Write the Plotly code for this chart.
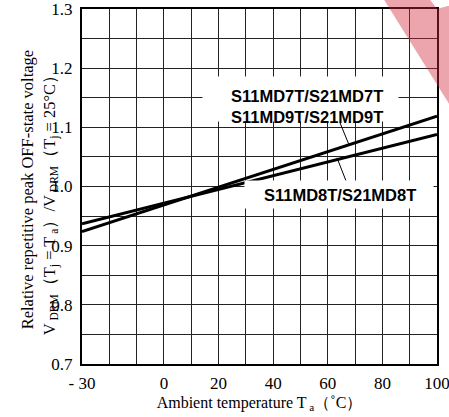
import plotly.graph_objects as go

# ---- data ----
temps = [-30, 100]
md7_md9 = [0.924, 1.119]   # S11MD7T/S21MD7T, S11MD9T/S21MD9T (steeper line)
md8 = [0.937, 1.088]       # S11MD8T/S21MD8T
x_ticks = [-30, -20, -10, 0, 10, 20, 30, 40, 50, 60, 70, 80, 90, 100]
x_labels = ["- 30", "", "", "0", "", "20", "", "40", "", "60", "", "80", "", "100"]
y_ticks = [0.7, 0.75, 0.8, 0.85, 0.9, 0.95, 1.0, 1.05, 1.1, 1.15, 1.2, 1.25, 1.3]
y_labels = ["0.7", "", "0.8", "", "0.9", "", "1.0", "", "1.1", "", "1.2", "", "1.3"]
label_78 = "S11MD7T/S21MD7T<br>S11MD9T/S21MD9T"
label_8 = "S11MD8T/S21MD8T"

W, H = 449, 417
L, R, T, B = 82, 437, 9.3, 364
XMIN, XMAX, YMIN, YMAX = -30, 100, 0.7, 1.3

def px2x(px):
    return XMIN + (px - L) * (XMAX - XMIN) / (R - L)

def py2y(py):
    return YMAX - (py - T) * (YMAX - YMIN) / (B - T)

def ppx(px):
    return (px - L) / (R - L)

def ppy(py):
    return (B - py) / (B - T)

fig = go.Figure()
fig.add_trace(go.Scatter(x=temps, y=md7_md9, mode="lines",
                         line=dict(color="black", width=3), showlegend=False))
fig.add_trace(go.Scatter(x=temps, y=md8, mode="lines",
                         line=dict(color="black", width=3), showlegend=False))

serif = "Liberation Serif"
sans = "Liberation Sans"

fig.update_layout(
    width=W, height=H,
    margin=dict(l=L, r=W - R, t=T, b=H - B, autoexpand=False),
    paper_bgcolor="white", plot_bgcolor="white",
    font=dict(family=serif, color="black"),
    xaxis=dict(range=[XMIN, XMAX], tickvals=x_ticks, ticktext=x_labels,
               showgrid=True, gridcolor="#222", gridwidth=1.2,
               showline=True, linecolor="black", linewidth=2, mirror=True,
               zeroline=False, ticks="", ticklabelstandoff=3, automargin=False,
               ticklabeloverflow="allow",
               tickfont=dict(family=serif, size=17, color="black"),
               title=dict(text="Ambient temperature T<sub> a</sub>（˚C）",
                          font=dict(family=serif, size=16, color="black"),
                          standoff=4)),
    yaxis=dict(range=[YMIN, YMAX], tickvals=y_ticks, ticktext=y_labels,
               showgrid=True, gridcolor="#222", gridwidth=1.2,
               showline=True, linecolor="black", linewidth=2, mirror=True,
               zeroline=False, ticks="", ticklabelstandoff=4, automargin=False,
               ticklabeloverflow="allow",
               tickfont=dict(family=serif, size=17, color="black")),
)

label_font = dict(family=sans, size=16.5, color="black", weight="bold")

# white backgrounds behind the labels
fig.add_annotation(x=px2x(300.5), y=py2y(99), xref="x", yref="y",
                   text=" ", showarrow=False, bgcolor="white",
                   width=195, height=44, borderpad=0)
fig.add_annotation(x=px2x(339), y=py2y(194.5), xref="x", yref="y",
                   text=" ", showarrow=False, bgcolor="white",
                   width=188, height=27, borderpad=0)
# label texts
fig.add_annotation(x=px2x(307), y=py2y(107), xref="x", yref="y",
                   text=label_78, showarrow=False, font=label_font)
fig.add_annotation(x=px2x(340), y=py2y(195), xref="x", yref="y",
                   text=label_8, showarrow=False, font=label_font)

# leader lines
fig.add_shape(type="line", xref="x", yref="y",
              x0=px2x(340), y0=py2y(123), x1=px2x(349), y1=py2y(145),
              line=dict(color="black", width=1))
fig.add_shape(type="line", xref="x", yref="y",
              x0=px2x(337), y0=py2y(158), x1=px2x(346), y1=py2y(181),
              line=dict(color="black", width=1))

# y-axis title (two rotated lines)
fig.add_annotation(x=ppx(16), y=ppy(190), xref="paper", yref="paper",
                   text="Relative repetitive peak OFF-state voltage",
                   textangle=-90, showarrow=False,
                   font=dict(family=serif, size=16.5, color="black"))
fig.add_annotation(x=ppx(38), y=ppy(202), xref="paper", yref="paper",
                   text="V<sub> DRM</sub>（T<sub>j</sub> = T<sub> a</sub>）/V<sub> DRM</sub>（T<sub>j</sub> = 25°C）",
                   textangle=-90, showarrow=False,
                   font=dict(family=serif, size=16.5, color="black"))

# pink watermark stripe in top-right corner
pts = [(384, 0), (430, 0), (437, 9), (449, 6), (449, 104)]
path = "M " + " L ".join(f"{ppx(a)},{ppy(b)}" for a, b in pts) + " Z"
fig.add_shape(type="path", xref="paper", yref="paper", path=path,
              fillcolor="rgba(210,40,60,0.42)", line=dict(width=0), layer="above")

fig.write_html("out.html", config={"displayModeBar": False},
               post_script="document.body.style.margin='0';document.body.style.padding='0';")
